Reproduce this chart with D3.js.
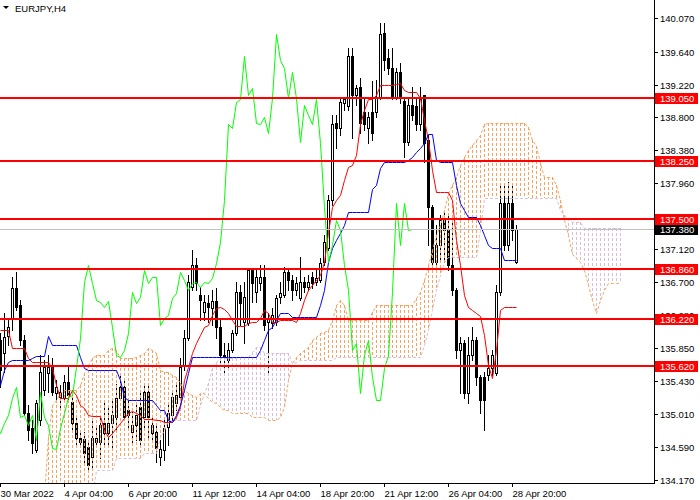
<!DOCTYPE html>
<html><head><meta charset="utf-8">
<script src="https://cdn.jsdelivr.net/npm/d3@7"></script>
<style>
html,body{margin:0;padding:0;background:#fff;}
svg{display:block;font-family:"Liberation Sans",Arial,sans-serif;}
</style></head><body>
<svg id="c" width="700" height="500"></svg>
<script>
const title = "EURJPY,H4";
const openP = [135.96,135.79,136.01,136.24,136.62,136.41,135.96,135.03,134.83,134.55,
134.94,135.32,135.54,135.61,135.28,135.23,135.23,135.42,135.17,134.90,
134.71,134.69,134.59,134.46,134.66,134.66,134.90,134.77,134.90,134.97,
135.22,135.36,135.06,134.78,134.87,135.10,134.97,135.29,134.77,134.78,
134.46,134.55,134.85,135.00,135.15,135.23,135.64,135.98,136.64,136.92,
136.53,136.32,136.43,136.37,136.46,136.12,135.77,135.70,135.83,136.05,
136.57,136.19,136.18,136.85,136.57,136.69,136.76,136.19,136.18,136.19,
136.51,136.53,136.83,136.73,136.60,136.50,136.70,136.64,136.76,136.70,
136.73,136.96,137.13,137.75,138.73,138.67,138.99,138.94,139.58,139.09,
139.19,138.87,138.67,138.87,138.87,139.05,139.88,139.56,139.43,139.06,
139.38,139.01,138.49,138.96,138.94,138.71,139.09,138.51,137.66,136.96,
137.17,137.49,137.36,136.92,136.60,135.83,135.92,135.28,135.77,135.96,
135.49,135.49,135.51,135.60,135.54,136.57,137.71,137.17,137.71,136.96];
const highP = [136.05,136.30,136.21,136.76,136.83,136.47,136.02,135.13,134.94,135.19,
135.77,135.70,135.77,135.73,135.45,135.38,135.51,135.64,135.22,135.00,
134.81,134.78,134.68,134.94,134.87,135.00,135.19,135.13,135.22,135.40,
135.51,135.45,135.19,135.04,135.13,135.32,135.38,135.38,135.00,134.87,
134.68,134.94,135.13,135.32,135.38,135.73,136.09,136.79,137.11,137.01,
136.64,136.53,136.53,136.60,136.62,136.21,135.92,135.92,136.09,136.70,
136.66,136.70,136.85,136.88,136.85,136.92,136.92,136.30,136.37,136.53,
136.70,136.89,136.88,136.79,136.76,137.02,136.76,136.79,136.83,136.85,
137.01,137.30,137.81,138.83,138.83,139.05,139.06,139.69,139.69,139.22,
139.31,139.03,138.87,139.26,139.28,140.01,140.01,139.67,139.69,139.43,
139.50,139.05,139.03,139.19,139.03,139.19,139.09,138.58,137.68,137.43,
137.56,137.59,137.56,137.53,136.62,136.00,135.96,136.00,136.12,136.00,
135.51,135.55,135.77,135.83,136.66,137.94,137.94,137.97,137.94,137.43];
const lowP = [135.36,135.55,135.89,136.09,136.34,135.89,135.00,134.68,134.51,134.53,
134.87,135.26,135.29,135.26,135.19,135.06,135.19,135.17,134.81,134.62,
134.62,134.40,134.30,134.32,134.62,134.45,134.59,134.62,134.59,134.81,
135.19,134.94,134.81,134.62,134.68,134.62,134.81,134.68,134.68,134.40,
134.36,134.42,134.62,134.94,135.06,135.19,135.58,135.96,136.60,136.60,
136.21,136.21,136.19,136.15,135.98,135.64,135.54,135.58,135.80,136.02,
136.15,135.92,136.15,136.44,136.44,136.60,136.09,135.51,136.11,136.15,
136.43,136.51,136.60,136.47,136.53,136.47,136.57,136.60,136.62,136.66,
136.70,136.92,137.11,137.68,138.41,138.58,138.90,138.90,138.54,138.96,
138.60,138.64,138.48,138.51,138.80,139.03,139.41,139.35,139.03,139.03,
138.99,138.30,138.45,138.77,138.64,138.64,138.23,137.17,136.88,136.85,
136.98,136.96,136.85,136.53,135.73,135.28,135.22,135.15,135.70,135.38,
135.03,134.81,135.45,135.51,135.51,136.53,137.11,137.11,137.24,136.94];
const closeP = [135.58,136.00,136.12,136.62,136.38,135.96,135.03,134.81,134.64,135.15,
135.55,135.61,135.61,135.29,135.36,135.29,135.42,135.26,134.90,134.71,
134.66,134.51,134.36,134.71,134.71,134.87,134.77,134.90,135.00,135.22,
135.36,134.97,135.00,134.87,135.00,134.68,135.29,134.97,134.87,134.58,
134.57,134.83,135.03,135.23,135.26,135.61,135.98,136.70,136.92,136.69,
136.47,136.44,136.38,136.46,136.12,135.77,135.74,135.83,136.05,136.57,
136.43,136.51,136.85,136.69,136.76,136.76,136.15,136.24,136.28,136.50,
136.56,136.83,136.73,136.60,136.69,136.70,136.64,136.70,136.69,136.75,
136.94,137.21,137.75,138.71,138.67,139.00,139.03,139.58,139.09,139.18,
138.73,138.71,138.80,138.60,139.05,139.86,139.54,139.43,139.05,139.38,
139.05,138.49,138.96,138.83,138.71,139.03,138.48,137.66,136.96,137.17,
137.49,137.36,136.92,136.60,135.83,135.92,135.28,135.77,135.96,135.49,
135.19,135.19,135.60,135.77,136.57,137.71,137.17,137.71,137.36,137.38];
const tenkan = [136.09,136.09,136.09,135.86,135.86,135.86,135.86,135.73,135.68,135.68,
135.68,135.68,135.68,135.60,135.38,135.22,135.22,135.22,135.32,135.26,
135.13,135.09,135.00,134.99,134.99,134.99,134.81,134.72,134.77,134.83,
134.90,134.96,135.03,135.05,135.03,135.00,134.95,134.95,134.95,134.94,
134.94,134.91,134.91,134.91,134.97,135.10,135.45,135.61,135.79,135.92,
136.02,136.12,136.15,136.28,136.37,136.38,136.35,136.30,136.21,136.14,
136.14,136.14,136.18,136.19,136.19,136.24,136.34,136.30,136.19,136.19,
136.21,136.21,136.21,136.21,136.19,136.30,136.47,136.60,136.66,136.73,
136.79,136.96,137.34,137.66,137.75,137.81,138.00,138.17,138.19,138.32,
138.71,138.90,139.03,139.04,139.09,139.21,139.21,139.21,139.21,139.23,
139.24,139.15,139.13,139.13,139.13,139.05,138.77,138.51,138.13,137.85,
137.85,137.85,137.85,137.75,137.24,136.92,136.53,136.38,136.34,136.30,
136.27,136.02,135.64,135.47,135.83,136.34,136.38,136.38,136.38,136.38];
const kijun = [135.38,135.58,135.68,135.70,135.70,135.70,135.70,135.70,135.73,135.75,
135.75,135.75,136.01,135.89,135.89,135.89,135.89,135.89,135.89,135.89,
135.74,135.60,135.58,135.58,135.58,135.58,135.58,135.58,135.58,135.58,
135.45,135.23,135.19,135.19,135.19,135.19,135.19,135.19,135.19,135.13,
135.06,135.06,134.94,134.91,135.00,135.13,135.32,135.54,135.74,135.74,
135.74,135.74,135.74,135.74,135.74,135.74,135.74,135.74,135.74,135.74,
135.74,135.74,135.74,135.74,135.74,135.83,135.96,136.09,136.12,136.21,
136.30,136.30,136.30,136.25,136.25,136.25,136.25,136.25,136.25,136.25,
136.41,136.60,136.96,137.13,137.24,137.33,137.43,137.59,137.59,137.59,
137.59,137.59,137.59,137.88,137.94,138.16,138.23,138.23,138.23,138.23,
138.23,138.23,138.26,138.30,138.36,138.41,138.48,138.59,138.59,138.26,
138.23,138.23,138.23,138.23,137.94,137.71,137.62,137.53,137.53,137.53,
137.43,137.30,137.17,137.13,137.13,137.13,136.98,136.98,136.98,136.98];
const spanA = [133.95,133.95,133.95,133.95,133.95,133.95,133.95,133.95,133.95,133.95,
133.95,133.95,134.72,135.13,135.19,135.28,135.32,135.32,135.32,135.32,
135.38,135.54,135.64,135.73,135.77,135.77,135.77,135.83,135.86,135.83,
135.73,135.73,135.73,135.73,135.74,135.77,135.79,135.86,135.83,135.79,
135.58,135.55,135.55,135.51,135.49,135.41,135.32,135.28,135.26,135.23,
135.28,135.28,135.22,135.17,135.15,135.10,135.06,135.06,135.03,135.03,
135.03,135.03,135.03,134.97,134.97,134.97,134.97,134.94,134.94,134.94,
134.97,135.10,135.45,135.66,135.74,135.79,135.83,135.87,135.96,136.00,
136.05,136.06,136.09,136.21,136.41,136.47,136.41,136.21,136.21,136.21,
136.21,136.21,136.21,136.32,136.41,136.41,136.41,136.41,136.41,136.41,
136.41,136.41,136.41,136.41,136.50,136.57,136.73,136.92,137.11,137.30,
137.43,137.62,137.84,137.94,138.04,138.19,138.29,138.39,138.45,138.51,
138.58,138.71,138.73,138.73,138.73,138.73,138.73,138.73,138.73,138.73,
138.73,138.73,138.68,138.51,138.43,138.22,138.04,138.04,138.04,137.94,
137.75,137.49,137.30,137.05,137.01,136.96,136.85,136.66,136.47,136.30,
136.47,136.60,136.69,136.69,136.69,136.69];
const spanB = [133.95,133.95,133.95,133.95,133.95,133.95,133.95,133.95,133.95,133.95,
133.95,133.95,133.95,133.95,133.95,133.95,133.95,133.95,133.95,133.95,
133.95,133.95,133.95,133.95,134.30,134.30,134.30,134.30,134.30,134.45,
134.45,134.45,134.45,134.45,134.45,134.45,134.51,134.51,134.51,134.51,
134.72,134.81,134.94,134.94,134.94,134.94,134.94,134.94,134.94,134.94,
135.13,135.28,135.41,135.60,135.68,135.73,135.73,135.73,135.73,135.73,
135.74,135.74,135.74,135.80,135.87,135.87,135.79,135.79,135.79,135.79,
135.79,135.79,135.79,135.66,135.68,135.70,135.70,135.70,135.70,135.70,
135.70,135.70,135.70,135.70,135.74,135.74,135.74,135.74,135.74,135.74,
135.74,135.74,135.74,135.74,135.74,135.74,135.74,135.74,135.74,135.74,
135.74,135.74,135.74,135.74,135.74,135.74,135.89,136.09,136.34,136.60,
136.79,136.96,137.02,137.02,137.02,137.02,137.02,137.02,137.02,137.02,
137.36,137.77,137.77,137.77,137.77,137.77,137.77,137.77,137.77,137.77,
137.77,137.77,137.77,137.77,137.77,137.77,137.77,137.77,137.77,137.77,
137.62,137.56,137.52,137.47,137.47,137.47,137.39,137.39,137.39,137.39,
137.39,137.39,137.39,137.39,137.39,137.39];
const chikouShift = 26;
const levels = [139.05, 138.25, 137.50, 136.86, 136.22, 135.62];
const lastPrice = 137.38;
const priceTicks = [140.07,139.64,139.22,138.80,138.38,137.96,137.54,137.12,136.70,136.28,135.85,135.43,135.01,134.59,134.17];
const timeTickIdx = [0,16,32,48,64,80,96,112,128];
const timeTickLabels = ["30 Mar 2022","4 Apr 04:00","6 Apr 20:00","11 Apr 12:00","14 Apr 04:00","18 Apr 20:00","21 Apr 12:00","26 Apr 04:00","28 Apr 20:00"];

const W = 700, H = 500, plotR = 654, plotB = 483;
const FONT = '"Liberation Sans", Arial, sans-serif';
const x = d3.scaleLinear().domain([0, 129]).range([0, 516]);
const y = d3.scaleLinear().domain([134.17, 140.07]).range([480, 18]).interpolate(d3.interpolateRound);

const svg = d3.select("#c");
svg.append("rect").attr("width", W).attr("height", H).attr("fill", "#fff");
svg.append("defs").append("clipPath").attr("id", "clip")
  .append("rect").attr("x", 0).attr("y", 0).attr("width", plotR).attr("height", plotB);
const g = svg.append("g").attr("clip-path", "url(#clip)").attr("shape-rendering", "crispEdges");

// candles
const bars = d3.range(openP.length).map(i => ({i, o: openP[i], h: highP[i], l: lowP[i], c: closeP[i]}));
const cg = g.append("g");
cg.selectAll("line").data(bars).join("line")
  .attr("x1", d => x(d.i) + 0.5).attr("x2", d => x(d.i) + 0.5)
  .attr("y1", d => y(d.h)).attr("y2", d => y(d.l) + 1)
  .attr("stroke", "#000");
cg.selectAll("rect").data(bars).join("rect")
  .attr("x", d => x(d.i) - 0.5).attr("width", 2)
  .attr("y", d => y(Math.max(d.o, d.c)) + 0.5)
  .attr("height", d => Math.max(0, y(Math.min(d.o, d.c)) - y(Math.max(d.o, d.c))))
  .attr("fill", d => d.c >= d.o ? "#fff" : "#000").attr("stroke", "#000");

// cloud histogram
const cloud = d3.range(spanA.length).map(i => ({i, a: spanA[i], b: spanB[i]}));
g.append("g").selectAll("line").data(cloud).join("line")
  .attr("x1", d => x(d.i) + 0.5).attr("x2", d => x(d.i) + 0.5)
  .attr("y1", d => y(Math.max(d.a, d.b))).attr("y2", d => y(Math.min(d.a, d.b)))
  .attr("stroke", d => d.a >= d.b ? "#F4A460" : "#D8BFD8")
  .attr("stroke-dasharray", "3,2");

const line = d3.line().x(d => x(d[0]) + 0.5).y(d => y(d[1]) + 0.5);
g.append("path").attr("d", line(spanA.map((v, i) => [i, v]))).attr("fill", "none")
  .attr("stroke", "#F4A460").attr("stroke-dasharray", "3,2").attr("shape-rendering", "auto");
g.append("path").attr("d", line(spanB.map((v, i) => [i, v]))).attr("fill", "none")
  .attr("stroke", "#D8BFD8").attr("stroke-dasharray", "3,2").attr("shape-rendering", "auto");

// Tenkan, Kijun, Chikou
g.append("path").attr("d", line(tenkan.map((v, i) => [i, v]))).attr("fill", "none")
  .attr("stroke", "#FF0000").attr("stroke-width", 1).attr("shape-rendering", "auto");
g.append("path").attr("d", line(kijun.map((v, i) => [i, v]))).attr("fill", "none")
  .attr("stroke", "#0000FF").attr("stroke-width", 1).attr("shape-rendering", "auto");
const chikou = closeP.map((v, i) => [i - chikouShift, v]).filter(d => d[0] >= -1);
g.append("path").attr("d", line(chikou)).attr("fill", "none")
  .attr("stroke", "#00FF00").attr("stroke-width", 1).attr("shape-rendering", "auto");

// last price line
g.append("line").attr("x1", 0).attr("x2", plotR)
  .attr("y1", y(lastPrice) + 0.5).attr("y2", y(lastPrice) + 0.5).attr("stroke", "#C0C0C0");

// level lines
g.append("g").selectAll("line").data(levels).join("line")
  .attr("x1", 0).attr("x2", plotR)
  .attr("y1", d => y(d)).attr("y2", d => y(d))
  .attr("stroke", "#FF0000").attr("stroke-width", 2);

// frame
svg.append("line").attr("x1", plotR + 0.5).attr("x2", plotR + 0.5).attr("y1", 0).attr("y2", plotB + 1).attr("stroke", "#000");
svg.append("line").attr("x1", 0).attr("x2", plotR + 1).attr("y1", plotB + 0.5).attr("y2", plotB + 0.5).attr("stroke", "#000");

// right axis
const ya = svg.append("g").attr("transform", `translate(${plotR},0)`)
  .call(d3.axisRight(y).tickValues(priceTicks).tickFormat(d3.format(".3f")).tickSize(4).tickPadding(2));
ya.select(".domain").remove();
ya.attr("font-family", FONT).attr("font-size", 9.5);
ya.selectAll("text").attr("fill", "#000");
ya.selectAll("line").attr("stroke", "#000").attr("shape-rendering", "crispEdges");

// bottom axis
const xa = svg.append("g").attr("transform", `translate(0,${plotB})`)
  .call(d3.axisBottom(x).tickValues(timeTickIdx).tickFormat((d, i) => timeTickLabels[i]).tickSize(4).tickPadding(3));
xa.select(".domain").remove();
xa.attr("font-family", FONT).attr("font-size", 9.5);
xa.selectAll("text").attr("text-anchor", "start").attr("x", 0).attr("fill", "#000");
xa.selectAll("line").attr("stroke", "#000").attr("shape-rendering", "crispEdges");

// price labels
function tag(v, bg) {
  const cy = y(v);
  svg.append("rect").attr("x", plotR + 1).attr("y", cy - 5).attr("width", 43).attr("height", 11).attr("fill", bg);
  svg.append("text").attr("x", plotR + 6).attr("y", cy + 4).attr("fill", "#fff")
    .attr("font-family", FONT).attr("font-size", 9.5).text(d3.format(".3f")(v));
}
tag(lastPrice, "#000");
levels.forEach(v => tag(v, "#FF0000"));

// title
svg.append("path").attr("d", "M3,6 L9,6 L6,9 Z").attr("fill", "#000");
svg.append("text").attr("x", 15).attr("y", 12).attr("font-family", FONT).attr("font-size", 9.5).attr("fill", "#000").text(title);
</script>
</body></html>
